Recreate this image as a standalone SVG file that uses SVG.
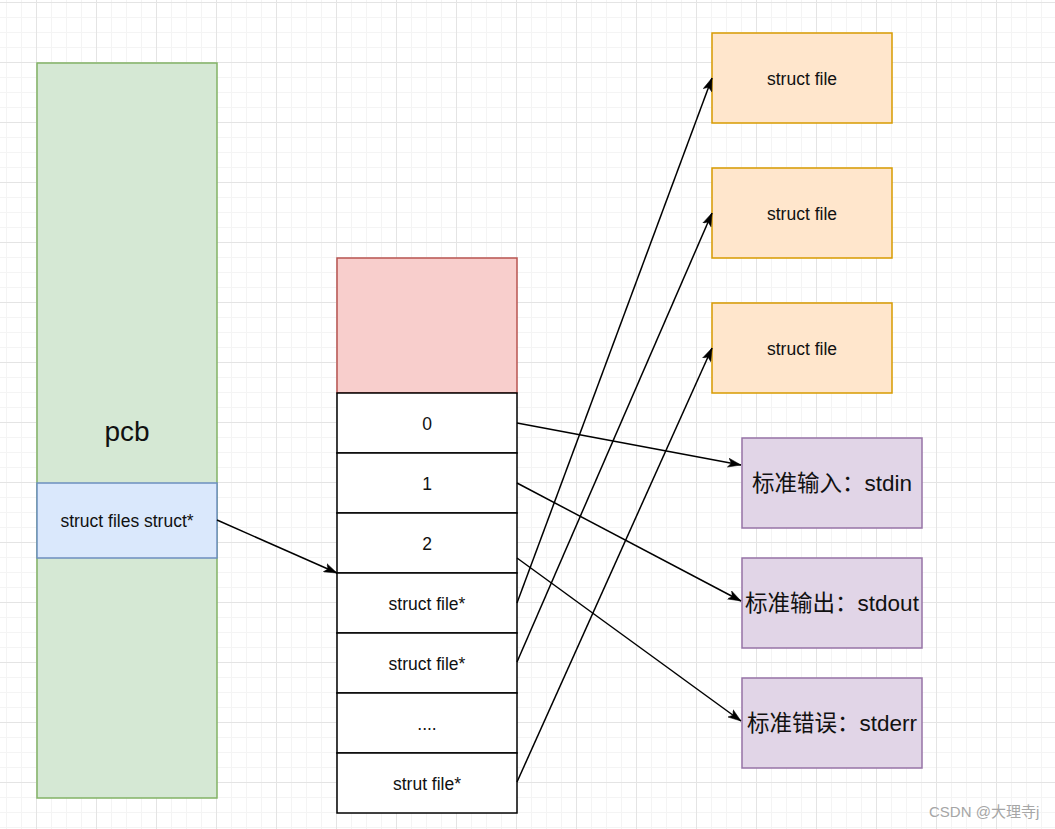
<svg xmlns="http://www.w3.org/2000/svg" width="1055" height="829" viewBox="0 0 1055 829">
  <style>
    text { font-family: "Liberation Sans", "Noto Sans CJK SC", sans-serif; fill: #111; text-anchor: middle; }
    .t18 { font-size: 17.5px; }
    .pcb { font-size: 28px; }
    .cjk { font-size: 22.5px; }
    .wm { font-size: 15px; fill: #a6a6a6; text-anchor: start; }
    .green { fill: #d5e8d4; stroke: #82b366; stroke-width: 1.5; }
    .blue { fill: #dae8fc; stroke: #6c8ebf; stroke-width: 1.5; }
    .red { fill: #f8cecc; stroke: #b85450; stroke-width: 1.5; }
    .cell { fill: #ffffff; stroke: #000; stroke-width: 1.5; }
    .orange { fill: #ffe6cc; stroke: #d79b00; stroke-width: 1.5; }
    .purple { fill: #e1d5e7; stroke: #9673a6; stroke-width: 1.5; }
    .edge { fill: none; stroke: #000; stroke-width: 1.5; marker-end: url(#arrow); }
  </style>
  <defs>
    <pattern id="grid" patternUnits="userSpaceOnUse" x="36" y="2" width="60" height="60">
      <path d="M15.5 0V60M30.5 0V60M45.5 0V60M0 15.5H60M0 30.5H60M0 45.5H60" stroke="#f4f4f4" stroke-width="1" fill="none"/>
      <path d="M0.5 0V60M0 0.5H60" stroke="#e4e4e4" stroke-width="1" fill="none"/>
    </pattern>
    <marker id="arrow" markerUnits="userSpaceOnUse" viewBox="0 0 13 10" refX="13" refY="5" markerWidth="13" markerHeight="10" orient="auto">
      <path d="M0 0.5L13 5L0 9.5L3.2 5Z" fill="#000" stroke="#000" stroke-width="0.5"/>
    </marker>
  </defs>
  <rect x="0" y="0" width="1055" height="829" fill="#ffffff"/>
  <rect x="0" y="0" width="1055" height="829" fill="url(#grid)"/>

  <g id="pcb">
    <rect class="green" x="37" y="63" width="180" height="735"/>
    <text class="pcb" x="127" y="441">pcb</text>
  </g>
  <g id="files-struct">
    <rect class="blue" x="37" y="483" width="180" height="75"/>
    <text class="t18" x="127" y="527">struct files struct*</text>
  </g>

  <g id="table-header">
    <rect class="red" x="337" y="258" width="180" height="135"/>
  </g>
  <g id="cell-0">
    <rect class="cell" x="337" y="393" width="180" height="60"/>
    <text class="t18" x="427" y="430">0</text>
  </g>
  <g id="cell-1">
    <rect class="cell" x="337" y="453" width="180" height="60"/>
    <text class="t18" x="427" y="490">1</text>
  </g>
  <g id="cell-2">
    <rect class="cell" x="337" y="513" width="180" height="60"/>
    <text class="t18" x="427" y="550">2</text>
  </g>
  <g id="cell-3">
    <rect class="cell" x="337" y="573" width="180" height="60"/>
    <text class="t18" x="427" y="610">struct file*</text>
  </g>
  <g id="cell-4">
    <rect class="cell" x="337" y="633" width="180" height="60"/>
    <text class="t18" x="427" y="670">struct file*</text>
  </g>
  <g id="cell-5">
    <rect class="cell" x="337" y="693" width="180" height="60"/>
    <text class="t18" x="427" y="730">....</text>
  </g>
  <g id="cell-6">
    <rect class="cell" x="337" y="753" width="180" height="60"/>
    <text class="t18" x="427" y="790">strut file*</text>
  </g>

  <g id="file-1">
    <rect class="orange" x="712" y="33" width="180" height="90"/>
    <text class="t18" x="802" y="85">struct file</text>
  </g>
  <g id="file-2">
    <rect class="orange" x="712" y="168" width="180" height="90"/>
    <text class="t18" x="802" y="220">struct file</text>
  </g>
  <g id="file-3">
    <rect class="orange" x="712" y="303" width="180" height="90"/>
    <text class="t18" x="802" y="355">struct file</text>
  </g>

  <g id="stdin">
    <rect class="purple" x="742" y="438" width="180" height="90"/>
    <text class="cjk" x="832" y="491">标准输入：stdin</text>
  </g>
  <g id="stdout">
    <rect class="purple" x="742" y="558" width="180" height="90"/>
    <text class="cjk" x="832" y="611">标准输出：stdout</text>
  </g>
  <g id="stderr">
    <rect class="purple" x="742" y="678" width="180" height="90"/>
    <text class="cjk" x="832" y="731">标准错误：stderr</text>
  </g>

  <g id="connectors">
    <path class="edge" d="M217 520L337 573"/>
    <path class="edge" d="M517 423L741 465"/>
    <path class="edge" d="M517 483L741 601"/>
    <path class="edge" d="M517 558L741 721"/>
    <path class="edge" d="M517 603L712 78"/>
    <path class="edge" d="M517 662L712 213"/>
    <path class="edge" d="M517 782L712 348"/>
  </g>

  <text class="wm" x="929" y="817">CSDN @大理寺j</text>
</svg>
